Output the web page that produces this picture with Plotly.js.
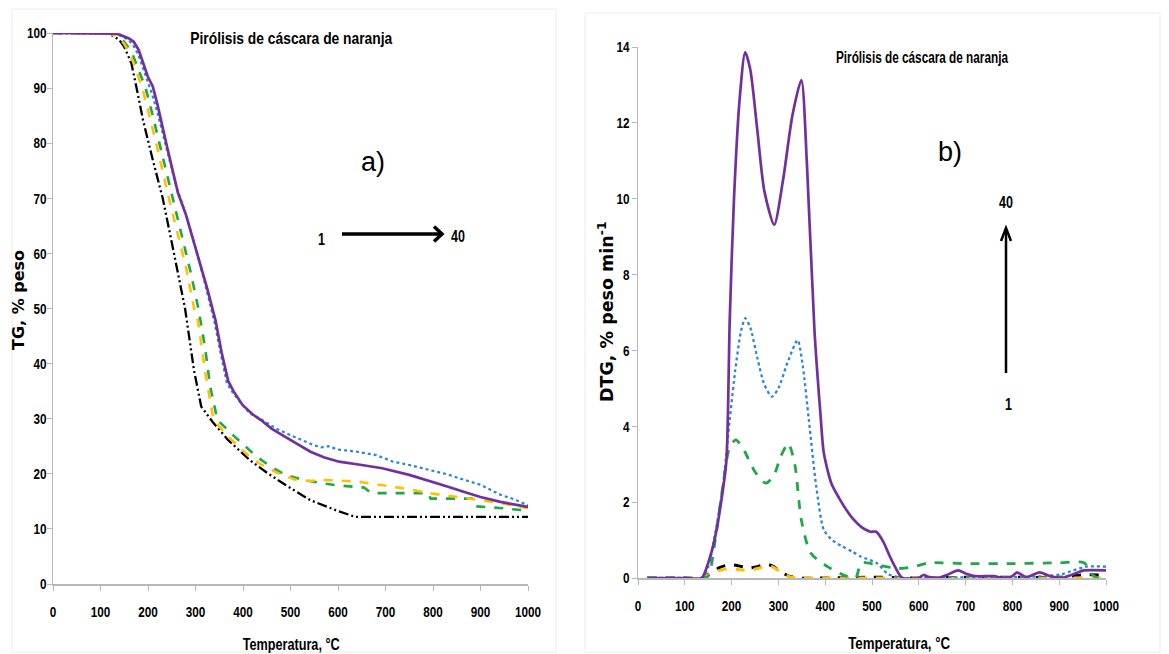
<!DOCTYPE html>
<html><head><meta charset="utf-8">
<script src="https://cdn.plot.ly/plotly-3.0.1.min.js"></script>
<style>html,body{margin:0;padding:0;background:#fff}#chart{width:1169px;height:654px}</style>
</head><body><div id="chart"></div>
<script>
// ---------- TG data (panel a) ----------
const tgPurpleT = [0,100,120,130,140,150,160,170,180,190,200,210,220,240,263,280,308,325,342,355,369,380,399,420,437,460,489,515,542,570,602,650,693,750,798,830,866,900,942,1000];
const tgPurple  = [100,100,100,99.9,99.7,99.4,99,98.4,97,94.5,92,90.3,87,79.4,71,67,58.8,53.5,47.9,42,36.8,35,32.5,30.8,29.8,28.2,26.7,25.3,24,23,22.2,21.6,21,19.8,18.6,17.7,16.7,15.8,14.9,14.0];
const tgBlueT = [0,100,120,130,140,150,160,170,180,190,200,210,220,240,260,280,305,320,340,355,366,380,400,414,440,470,500,549,565,580,600,640,680,716,750,791,830,866,900,942,970,1000];
const tgBlue  = [100,100,100,99.9,99.6,99.2,98.6,97.6,96,93.5,91,88.5,85.5,78.5,72,67,59.5,54.5,47.5,41,36.5,34.5,32.5,31,29.8,28.2,27,25.2,24.8,25,24.4,24,23.4,22.2,21.6,20.7,19.9,18.9,18,16.2,15.4,14.3];
const tgOrangeT = [0,100,115,130,140,150,160,170,180,188,200,220,244,260,280,297,305,320,338,369,414,440,474,512,540,565,600,640,680,716,750,791,830,866,900,942,970,1000];
const tgOrange  = [100,100,100,99.6,99,98,96.5,94.5,92,90,86,79,70,64.5,57.5,50,47.9,38.7,29.8,26.7,23.1,21.6,20.1,18.9,18.7,18.9,18.8,18.6,18.1,17.7,17.2,16.5,16,15.6,15.2,14.7,14.2,13.8];
const tgGreenT = [0,100,115,130,140,150,160,170,180,195,210,230,252,270,290,306,320,331,346,383,429,459,489,527,565,600,625,655,670,700,750,790,795,850,885,890,940,1000];
const tgGreen  = [100,100,100,99.7,99.2,98.4,97.2,95.6,93.5,90,85,78,70,63.5,56.5,50,43,35.8,29.8,26.7,23.1,21.3,19.8,18.9,18.3,17.9,17.7,17.5,16.5,16.5,16.5,16.5,15.5,15.5,15.5,14.1,13.8,13.3];
const tgBlackT = [0,100,115,130,140,150,165,176,190,210,231,250,265,278,297,312,338,369,414,452,489,542,595,636,700,800,900,1000];
const tgBlack  = [100,100,100,99.3,98.7,97.5,94.5,90,84,77,70,62,55.5,50,38.7,32.2,29.2,26.1,22.5,20.1,18,15.2,13.4,12.2,12.2,12.2,12.2,12.2];

// ---------- DTG data (panel b) ----------
const dtgPurpleT = [20,100,136,150,165,180,189,196,205,217,229,240,255,270,291,310,330,349,361,377,390,397,413,430,445,460,477,497,509,524,537,549,565,600,610,620,640,660,684,700,720,760,780,800,810,830,858,880,905,930,953,1000];
const dtgPurple  = [0,0,0,0.4,1.09,2.2,3.1,6.8,9.97,12.6,13.86,13.4,11.8,10.2,9.31,10.5,12.2,13.13,10.9,6.54,4.3,3.3,2.5,2.1,1.8,1.55,1.35,1.22,1.22,0.96,0.6,0.3,0,0,0.08,0.03,0,0.08,0.2,0.12,0.05,0.05,0,0.05,0.15,0.02,0.15,0.05,0,0.1,0.2,0.2];
const dtgBlueT = [20,100,136,150,165,181,196,208,220,229,240,255,270,286,300,320,341,352,365,381,397,415,437,457,477,509,535,565,600,700,800,870,905,930,958,1000];
const dtgBlue  = [0,0,0,0.3,1.18,2.4,4.17,5.5,6.5,6.85,6.6,5.8,5.1,4.78,5.0,5.7,6.27,5.6,4.17,2.4,1.27,1.0,0.83,0.7,0.56,0.4,0.1,0,0,0.02,0.02,0.05,0.1,0.2,0.3,0.3];
const dtgGreenT = [20,100,136,150,165,181,196,209,225,250,273,290,305,321,335,349,369,405,445,465,477,509,557,590,621,700,800,900,953,970,985,1000];
const dtgGreen  = [0,0,0,0.05,1.0,2.4,3.46,3.64,3.4,2.8,2.5,2.7,3.2,3.55,3.0,1.53,0.66,0.3,0.05,0,0.4,0.35,0.25,0.3,0.4,0.38,0.38,0.4,0.4,0.1,0,0.1];
const dtgBlackT = [20,100,136,150,175,196,215,236,255,276,290,300,323,345,400,500,600,700,800,900,950,1000];
const dtgBlack  = [0,0,0,0.1,0.28,0.35,0.32,0.26,0.3,0.36,0.3,0.2,0.05,0,0,0.02,0,0.02,0.02,0.02,0.08,0.08];
const dtgOrangeT = [20,100,136,150,175,196,215,236,255,276,290,305,325,345,400,500,600,700,800,900,1000];
const dtgOrange  = [0,0,0,0.08,0.2,0.25,0.22,0.2,0.25,0.32,0.28,0.15,0.03,0,0,0,0,0,0,0,0];

const chartTitle = "Pirólisis de cáscara de naranja";
const xTitle = "Temperatura, °C";
const tgTitle = "TG, % peso";
const dtgTitle = "DTG, % peso min<sup>-1</sup>";

const PURPLE = "#7030A0", BLUE = "#2E86D0", GREEN = "#1FA84A", ORANGE = "#FFC000", BLACK = "#000000";
const sansB = "Liberation Sans, Arial, sans-serif";
const wide = "DejaVu Sans, sans-serif";

function tr(x, y, color, dash, width, xa, ya, shape) {
  return {x: x, y: y, type: "scatter", mode: "lines", xaxis: xa, yaxis: ya, hoverinfo: "skip",
    line: {color: color, dash: dash, width: width, shape: shape || "linear", smoothing: 0.7}, showlegend: false};
}
const blackDash = "10px,3px,2px,3px,2px,3px";
const data = [
  tr(tgBlackT, tgBlack, BLACK, blackDash, 2.3, "x", "y"),
  tr(tgGreenT, tgGreen, GREEN, "dash", 2.6, "x", "y"),
  tr(tgOrangeT, tgOrange, ORANGE, "dash", 2.6, "x", "y"),
  tr(tgBlueT, tgBlue, BLUE, "dot", 2.2, "x", "y"),
  tr(tgPurpleT, tgPurple, PURPLE, "solid", 2.7, "x", "y"),
  tr(dtgBlackT, dtgBlack, BLACK, "dash", 3, "x2", "y2", "spline"),
  tr(dtgOrangeT, dtgOrange, ORANGE, "dash", 3, "x2", "y2", "spline"),
  tr(dtgGreenT, dtgGreen, GREEN, "dash", 2.8, "x2", "y2", "spline"),
  tr(dtgBlueT, dtgBlue, BLUE, "dot", 2.3, "x2", "y2", "spline"),
  tr(dtgPurpleT, dtgPurple, PURPLE, "solid", 2.7, "x2", "y2", "spline")
];

const tickFont = {family: sansB, size: 15, color: "#000", weight: "bold"};
const axBase = {showgrid: false, zeroline: false, showline: true, linecolor: "#b8b8b8", linewidth: 1.5,
  ticks: "outside", ticklen: 5, tickcolor: "#b8b8b8", tickwidth: 1, tickfont: tickFont};
const W = 1169, H = 654;
const px = v => v / W, py = v => 1 - v / H;

function txt(text, x, y, font, extra) {
  return Object.assign({text: text, xref: "paper", yref: "paper", x: px(x), y: py(y), xanchor: "center", yanchor: "middle",
    showarrow: false, font: font}, extra || {});
}
const fNarrow = s => ({family: sansB, size: s, color: "#000", weight: "bold"});

function arrowLine(x0, y0, x1, y1, w) {
  return {type: "line", xref: "paper", yref: "paper", x0: px(x0), y0: py(y0), x1: px(x1), y1: py(y1), line: {color: "#000", width: w}};
}
function chevron(pts, w) {
  const d = "M" + pts.map(p => px(p[0]) + "," + py(p[1])).join(" L");
  return {type: "path", xref: "paper", yref: "paper", path: d, line: {color: "#000", width: w}};
}

const layout = {
  width: W, height: H, margin: {l: 0, r: 0, t: 0, b: 0}, paper_bgcolor: "#fff", plot_bgcolor: "#fff",
  xaxis: Object.assign({}, axBase, {domain: [px(53), px(528)], range: [0, 1000], dtick: 100, anchor: "y", ticklabelstandoff: 8}),
  yaxis: Object.assign({}, axBase, {domain: [1 - 584 / H, 1 - 33 / H], range: [0, 100], dtick: 10, anchor: "x", ticklabelstandoff: -3}),
  xaxis2: Object.assign({}, axBase, {domain: [px(638), px(1106)], range: [0, 1000], dtick: 100, anchor: "y2", ticklabelstandoff: 8}),
  yaxis2: Object.assign({}, axBase, {domain: [1 - 578 / H, 1 - 47 / H], range: [0, 14], dtick: 2, anchor: "x2", ticklabelstandoff: -1}),
  shapes: [
    {type: "rect", xref: "paper", yref: "paper", x0: px(12), x1: px(556), y0: py(652), y1: py(9), line: {color: "#ececec", width: 1}},
    {type: "rect", xref: "paper", yref: "paper", x0: px(585), x1: px(1160), y0: py(652), y1: py(13), line: {color: "#ececec", width: 1}},
    arrowLine(342, 234, 441, 234, 3.5),
    chevron([[434, 226.5], [442, 234], [434, 241.5]], 3.5),
    arrowLine(1006, 373, 1006, 229, 2.5),
    chevron([[1001, 241], [1006, 228], [1011, 241]], 2.5)
  ],
  annotations: [
    txt(chartTitle, 291, 38, fNarrow(17)),
    txt(chartTitle, 922, 58, fNarrow(16)),
    txt("a)", 373, 162, {family: sansB, size: 27, color: "#000"}),
    txt("b)", 950, 152, {family: sansB, size: 27, color: "#000"}),
    txt("1", 321, 239, fNarrow(16)),
    txt("40", 458, 237, fNarrow(16)),
    txt("40", 1006, 203, fNarrow(16)),
    txt("1", 1008, 405, fNarrow(16)),
    txt(xTitle, 291, 644, fNarrow(17)),
    txt(xTitle, 899, 643, fNarrow(17)),
    txt(tgTitle, 18, 300, {family: wide, size: 16, color: "#000", weight: "bold"}, {textangle: -90}),
    txt(dtgTitle, 606, 312, {family: wide, size: 17.5, color: "#000", weight: "bold"}, {textangle: -90})
  ]
};

// target widths (px) for narrow-looking texts, keyed by annotation index; others are squeezed by a factor
const targetWidth = {0: 202, 1: 172, 8: 97, 9: 102};
const narrowFactor = 0.78;
function squeezeText(t, target) {
  const L = t.getComputedTextLength();
  if (L > 0) {
    t.setAttribute("textLength", (target || L * narrowFactor).toFixed(2));
    t.setAttribute("lengthAdjust", "spacingAndGlyphs");
  }
}
Plotly.newPlot("chart", data, layout, {staticPlot: true, displayModeBar: false}).then(function (gd) {
  gd.querySelectorAll(".xtick text, .ytick text, .x2tick text, .y2tick text").forEach(t => squeezeText(t));
  [0, 1, 4, 5, 6, 7, 8, 9].forEach(i => {
    const t = gd.querySelector('.annotation[data-index="' + i + '"] text');
    if (t) squeezeText(t, targetWidth[i]);
  });
});
</script></body></html>
